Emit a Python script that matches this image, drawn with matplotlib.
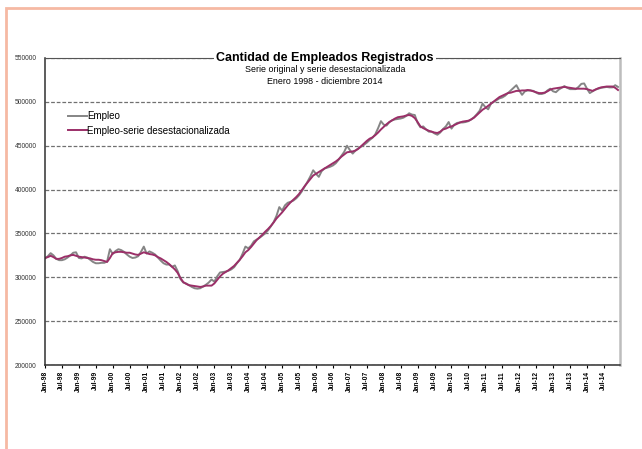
import matplotlib
matplotlib.use("Agg")
import matplotlib.pyplot as plt
from matplotlib.patches import Rectangle

plt.rcParams["font.family"] = ["Liberation Sans", "DejaVu Sans"]

# monthly values, thousands of employees, Jan 1998 .. Dec 2014
EMPLEO = [
    321.5, 324, 327.5, 325, 321, 319.5, 319.5, 320.5, 322.5, 325, 328, 328.5,   # 1998
    322, 321.5, 323.5, 322.5, 320, 317.5, 316, 316, 316.5, 316.5, 318, 332,     # 1999
    326.5, 330, 332, 331, 329, 326, 323.5, 322, 322.5, 324, 329, 335,           # 2000
    327, 329.5, 328, 326, 322.5, 319, 316, 314.5, 314.5, 312, 313.5, 307,       # 2001
    298, 294, 293, 291, 289, 287.5, 287, 287.5, 289.5, 291.5, 294, 297.5,       # 2002
    295, 301, 305.5, 306, 306.5, 307.5, 309, 311.5, 316, 320, 327, 335,         # 2003
    333, 336, 341, 343, 345, 347.5, 350, 353.5, 358, 363, 370, 380,             # 2004
    376, 382, 385, 386, 387.5, 390, 393.5, 398, 403.5, 409, 415, 422,           # 2005
    418, 414.5, 421, 424, 425, 426, 427.5, 430, 434, 438.5, 443, 450,           # 2006
    445, 441, 444.5, 447, 449, 451, 453.5, 456.5, 459, 463, 470, 478,           # 2007
    474, 473, 477, 479, 480, 480.5, 481, 482, 484, 487, 485.5, 485,             # 2008
    476, 471, 472, 468.5, 466, 466, 464, 462.5, 465, 469, 472, 477,             # 2009
    469.5, 474, 476, 476.5, 476.5, 477, 478, 480, 482.5, 486, 490, 498,         # 2010
    494, 491.5, 498, 500, 502, 504, 505, 507, 510, 513, 516, 519,               # 2011
    513, 508, 512, 513, 513, 512.5, 510.5, 509, 509, 510, 513, 515,             # 2012
    512, 511, 514, 516, 518, 516, 514.5, 514.5, 514.5, 517, 520.5, 521,         # 2013
    515, 510, 512, 514, 515, 516, 516.5, 517, 516.5, 516.5, 519, 517,           # 2014
]
DESEST = [
    322, 323, 324.5, 323, 321, 321, 322, 323.5, 324, 325, 325.5, 324.5,
    323.5, 323, 322.5, 322, 321.5, 320.5, 320, 320, 319.5, 318.5, 317.5, 322,
    327.5, 328.5, 329, 329, 328.5, 328, 328, 327, 326, 325.5, 327, 328.5,
    327.5, 326.5, 326, 325, 323, 321.5, 319.5, 317.5, 315, 312, 309, 305,
    299, 294.5, 292.5, 291, 290.5, 290, 289.5, 289, 289.5, 290.5, 290.5, 290.5,
    293, 297, 301, 304, 306, 308, 310.5, 313, 316.5, 320, 324, 328.5,
    331, 334.5, 338.5, 342.5, 345.5, 348.5, 352, 355, 358.5, 362.5, 367, 370.5,
    374, 378, 382, 385.5, 388.5, 391.5, 395, 399.5, 404, 408, 412, 416,
    418, 420, 422, 424, 426, 428, 430, 432, 434.5, 437.5, 440, 442.5,
    443, 443.5, 444.5, 446.5, 449.5, 452.5, 455.5, 458, 459.5, 462, 465, 468.5,
    471.5, 474.5, 477, 479, 481, 482.5, 483, 483.5, 484.5, 485, 484, 481.5,
    477, 472, 470, 468.5, 467, 466, 465, 464.5, 466, 468.5, 469.5, 471,
    472, 473.5, 475, 476.5, 477.5, 478, 478.5, 480, 482, 485, 488, 491,
    493, 495.5, 498, 500.5, 503, 505.5, 507, 508.5, 510, 510.5, 511.5, 512.5,
    512.5, 513, 513, 513.5, 513, 512, 511, 510, 510, 510.5, 512, 514,
    515, 515.5, 516, 516.5, 517, 516.5, 516, 515.5, 515, 515, 515, 515,
    514.5, 513.5, 512.5, 514, 515.5, 516.5, 517, 517.5, 517.5, 517.5, 516, 513.5,
]
YEARS = list(range(1998, 2015))
YTICKS = [200000, 250000, 300000, 350000, 400000, 450000, 500000, 550000]

months = list(range(len(EMPLEO)))
xlabels = []
for y in YEARS:
    xlabels += [f"Jan-{y % 100:02d}", f"Jul-{y % 100:02d}"]
xlabels = xlabels[:34]

fig = plt.figure(figsize=(6.42, 4.49), dpi=100)
fig.patches.append(Rectangle((6 / 642, -0.5), 2, 1.5 - 8 / 449, transform=fig.transFigure,
                             fill=False, ec="#F6B9A3", lw=2))
ax = fig.add_axes([45 / 642, 1 - 365 / 449, 575 / 642, 307 / 449])

ax.plot(months, [v * 1000 for v in EMPLEO], color="#858585", lw=1.4, label="Empleo")
ax.plot(months, [v * 1000 for v in DESEST], color="#9B2F68", lw=1.4,
        label="Empleo-serie desestacionalizada")

ax.set_xlim(0, 203.7)
ax.set_ylim(200000, 550000)
ax.set_yticks(YTICKS)
ax.set_yticklabels([str(v) for v in YTICKS], fontsize=4.8, color="#333333")
ax.set_xticks(months[::6][:34])
ax.set_xticklabels(xlabels, rotation=90, fontsize=4.8, fontweight="bold")
ax.tick_params(axis="x", length=2.5, width=0.8, pad=2)
ax.tick_params(axis="y", length=0, pad=6)
ax.grid(axis="y", color="#707070", ls=(0, (3, 1.5)), lw=0.9)
ax.set_axisbelow(True)
for s in ("left", "bottom"):
    ax.spines[s].set_color("#303030")
    ax.spines[s].set_linewidth(1.1)
ax.spines["top"].set_color("#555555")
ax.spines["top"].set_linewidth(0.8)
ax.spines["right"].set_color("#BDBDBD")
ax.spines["right"].set_linewidth(1.8)

ax.legend(loc="upper left", bbox_to_anchor=(0.025, 0.855), frameon=False, fontsize=7,
          handlelength=1.9, handletextpad=0.05, labelspacing=0.45)

fig.text(325 / 642, 1 - 58 / 449, "Cantidad de Empleados Registrados", ha="center", va="center",
         fontsize=9, fontweight="bold",
         bbox=dict(facecolor="white", edgecolor="none", pad=1.5))
fig.text(325 / 642, 1 - 70 / 449, "Serie original y serie desestacionalizada",
         ha="center", va="center", fontsize=6.4)
fig.text(325 / 642, 1 - 81 / 449, "Enero 1998 - diciembre 2014",
         ha="center", va="center", fontsize=6.4)

fig.savefig("out.png", dpi=100)
